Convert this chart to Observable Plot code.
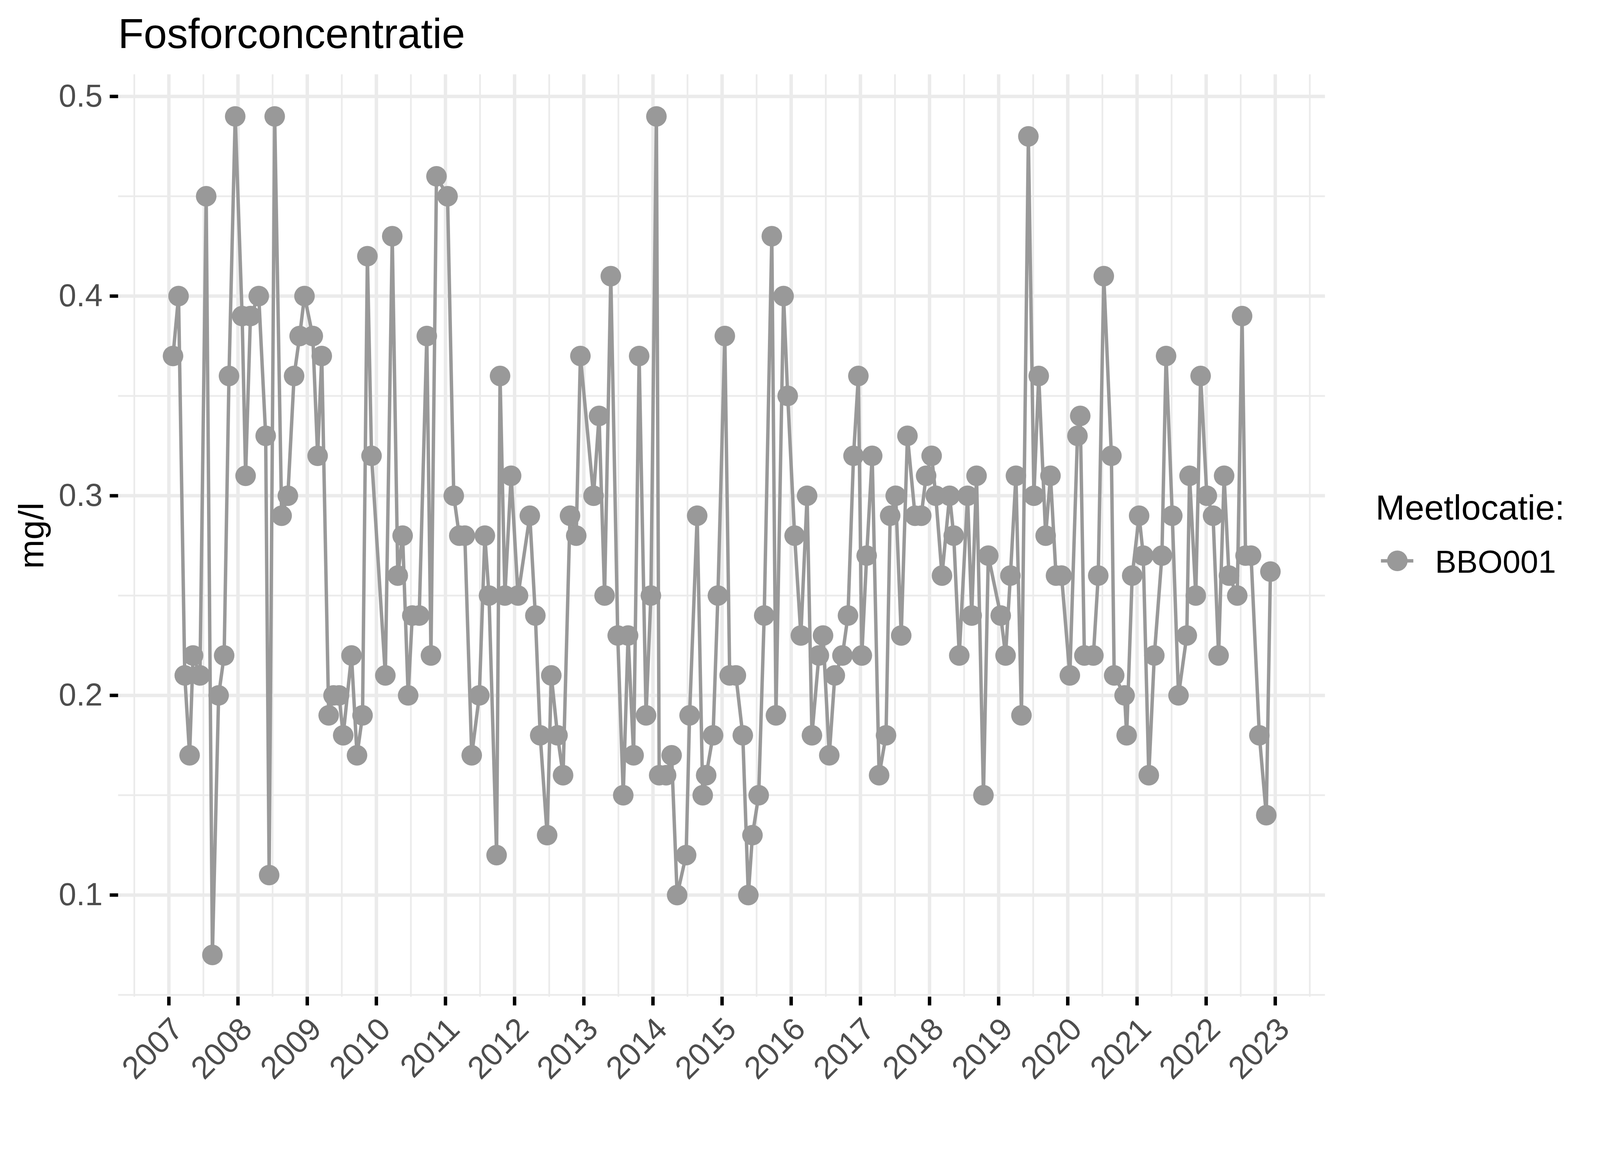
<!DOCTYPE html>
<html>
<head>
<meta charset="utf-8">
<script src="https://cdn.jsdelivr.net/npm/d3@7"></script>
<script src="https://cdn.jsdelivr.net/npm/@observablehq/plot@0.6"></script>
<style>
  html, body { margin: 0; padding: 0; background: #ffffff; overflow: hidden; }
  #page { position: relative; width: 4200px; height: 3000px; font-family: "Liberation Sans", Arial, sans-serif; background: #ffffff; transform-origin: 0 0; overflow: hidden; }
  #title { height: 160px; box-sizing: border-box; padding-top: 33px; padding-left: 310px; font-size: 110px; line-height: 110px; color: #000; white-space: nowrap; }
  #chart { height: 2840px; line-height: 0; }
  #chart svg { display: block; }
  .leg { position: absolute; white-space: nowrap; color: #000; }
  #legTitle { left: 3611px; top: 1286px; font-size: 92px; line-height: 92px; }
  #legLabel { left: 3767px; top: 1432px; font-size: 84px; line-height: 84px; }
  #legKey { position: absolute; left: 3620px; top: 1440px; }
</style>
</head>
<body>
<div id="page">
  <div id="title">Fosforconcentratie</div>
  <div id="chart"></div>
  <div class="leg" id="legTitle">Meetlocatie:</div>
  <svg id="legKey" width="96" height="64" viewBox="0 0 96 64">
    <line x1="5" y1="32" x2="90" y2="32" stroke="#999999" stroke-width="9"></line>
    <circle cx="48" cy="32" r="27" fill="#999999"></circle>
  </svg>
  <div class="leg" id="legLabel">BBO001</div>
</div>
<script>
// Sample moments (decimal years)
const sampleYears = [
  2007.06, 2007.14, 2007.23, 2007.30, 2007.35, 2007.45, 2007.54, 2007.63, 2007.72, 2007.80, 2007.87, 2007.96,
  2008.06, 2008.11, 2008.18, 2008.30, 2008.40, 2008.45, 2008.53, 2008.63, 2008.72, 2008.81, 2008.89, 2008.96,
  2009.08, 2009.15, 2009.21, 2009.31, 2009.38, 2009.46, 2009.52, 2009.64, 2009.72, 2009.80, 2009.87, 2009.93,
  2010.13, 2010.23, 2010.31, 2010.38, 2010.46, 2010.52, 2010.62, 2010.73, 2010.79, 2010.87,
  2011.03, 2011.12, 2011.20, 2011.28, 2011.38, 2011.49, 2011.57, 2011.63, 2011.74, 2011.79, 2011.86, 2011.95,
  2012.05, 2012.22, 2012.30, 2012.37, 2012.47, 2012.53, 2012.62, 2012.70, 2012.80, 2012.89, 2012.95,
  2013.14, 2013.22, 2013.30, 2013.39, 2013.49, 2013.57, 2013.64, 2013.72, 2013.80, 2013.90, 2013.97,
  2014.05, 2014.09, 2014.19, 2014.27, 2014.35, 2014.48, 2014.53, 2014.64, 2014.72, 2014.77, 2014.87, 2014.94,
  2015.04, 2015.11, 2015.20, 2015.30, 2015.38, 2015.44, 2015.53, 2015.61, 2015.72, 2015.78, 2015.89, 2015.95,
  2016.05, 2016.14, 2016.23, 2016.30, 2016.40, 2016.46, 2016.55, 2016.63, 2016.74, 2016.82, 2016.90, 2016.97,
  2017.02, 2017.09, 2017.17, 2017.27, 2017.37, 2017.43, 2017.51, 2017.59, 2017.68, 2017.79, 2017.88, 2017.95,
  2018.03, 2018.09, 2018.18, 2018.29, 2018.35, 2018.43, 2018.55, 2018.61, 2018.68, 2018.78, 2018.85,
  2019.03, 2019.10, 2019.17, 2019.25, 2019.33, 2019.43, 2019.51, 2019.58, 2019.68, 2019.75, 2019.83, 2019.91,
  2020.03, 2020.14, 2020.18, 2020.24, 2020.37, 2020.44, 2020.52, 2020.63, 2020.67, 2020.82, 2020.85, 2020.93,
  2021.03, 2021.09, 2021.17, 2021.25, 2021.36, 2021.42, 2021.51, 2021.60, 2021.72, 2021.76, 2021.85, 2021.92,
  2022.01, 2022.10, 2022.18, 2022.26, 2022.33, 2022.45, 2022.52, 2022.57, 2022.65, 2022.77, 2022.87, 2022.93
];
// Phosphorus concentration, mg/l, location BBO001
const fosfor = [
  0.37, 0.40, 0.21, 0.17, 0.22, 0.21, 0.45, 0.07, 0.20, 0.22, 0.36, 0.49,
  0.39, 0.31, 0.39, 0.40, 0.33, 0.11, 0.49, 0.29, 0.30, 0.36, 0.38, 0.40,
  0.38, 0.32, 0.37, 0.19, 0.20, 0.20, 0.18, 0.22, 0.17, 0.19, 0.42, 0.32,
  0.21, 0.43, 0.26, 0.28, 0.20, 0.24, 0.24, 0.38, 0.22, 0.46,
  0.45, 0.30, 0.28, 0.28, 0.17, 0.20, 0.28, 0.25, 0.12, 0.36, 0.25, 0.31,
  0.25, 0.29, 0.24, 0.18, 0.13, 0.21, 0.18, 0.16, 0.29, 0.28, 0.37,
  0.30, 0.34, 0.25, 0.41, 0.23, 0.15, 0.23, 0.17, 0.37, 0.19, 0.25,
  0.49, 0.16, 0.16, 0.17, 0.10, 0.12, 0.19, 0.29, 0.15, 0.16, 0.18, 0.25,
  0.38, 0.21, 0.21, 0.18, 0.10, 0.13, 0.15, 0.24, 0.43, 0.19, 0.40, 0.35,
  0.28, 0.23, 0.30, 0.18, 0.22, 0.23, 0.17, 0.21, 0.22, 0.24, 0.32, 0.36,
  0.22, 0.27, 0.32, 0.16, 0.18, 0.29, 0.30, 0.23, 0.33, 0.29, 0.29, 0.31,
  0.32, 0.30, 0.26, 0.30, 0.28, 0.22, 0.30, 0.24, 0.31, 0.15, 0.27,
  0.24, 0.22, 0.26, 0.31, 0.19, 0.48, 0.30, 0.36, 0.28, 0.31, 0.26, 0.26,
  0.21, 0.33, 0.34, 0.22, 0.22, 0.26, 0.41, 0.32, 0.21, 0.20, 0.18, 0.26,
  0.29, 0.27, 0.16, 0.22, 0.27, 0.37, 0.29, 0.20, 0.23, 0.31, 0.25, 0.36,
  0.30, 0.29, 0.22, 0.31, 0.26, 0.25, 0.39, 0.27, 0.27, 0.18, 0.14, 0.262
];
const yearTicks = [2007, 2008, 2009, 2010, 2011, 2012, 2013, 2014, 2015, 2016, 2017, 2018, 2019, 2020, 2021, 2022, 2023];
const yearMinor = [2006.5, 2007.5, 2008.5, 2009.5, 2010.5, 2011.5, 2012.5, 2013.5, 2014.5, 2015.5, 2016.5, 2017.5, 2018.5, 2019.5, 2020.5, 2021.5, 2022.5, 2023.5];
const yTicks = [0.1, 0.2, 0.3, 0.4, 0.5];
const yMinor = [0.05, 0.15, 0.25, 0.35, 0.45];
const xLimits = [2006.268, 2023.722];
const yLimits = [0.049, 0.511];

function decToDate(d) {
  const y = Math.floor(d);
  const a = Date.UTC(y, 0, 1), b = Date.UTC(y + 1, 0, 1);
  return new Date(a + (d - y) * (b - a));
}

const data = sampleYears.map((t, i) => ({date: decToDate(t), value: fosfor[i]}));
const majorX = yearTicks.map(decToDate);
const minorX = yearMinor.map(decToDate);

const grid = "#EBEBEB";
const chart = Plot.plot({
  width: 4200,
  height: 2840,
  marginTop: 35,
  marginBottom: 384,
  marginLeft: 310,
  marginRight: 722,
  style: {fontFamily: "Liberation Sans, Arial, sans-serif", fontSize: "83px", background: "#ffffff", overflow: "visible"},
  x: {type: "utc", domain: xLimits.map(decToDate)},
  y: {domain: yLimits},
  marks: [
    Plot.ruleX(minorX, {stroke: grid, strokeWidth: 4.5}),
    Plot.ruleY(yMinor, {stroke: grid, strokeWidth: 4.5}),
    Plot.ruleX(majorX, {stroke: grid, strokeWidth: 9}),
    Plot.ruleY(yTicks, {stroke: grid, strokeWidth: 9}),
    Plot.line(data, {x: "date", y: "value", stroke: "#999999", strokeWidth: 9}),
    Plot.dot(data, {x: "date", y: "value", r: 27, fill: "#999999", stroke: "none"}),
    Plot.axisX({anchor: "bottom", ticks: majorX, tickFormat: d3.utcFormat("%Y"), tickRotate: -45, textAnchor: "end", lineAnchor: "top", tickSize: 23, tickPadding: 25, stroke: "#000", strokeWidth: 9, fill: "#4D4D4D", fontSize: 83, label: null}),
    Plot.axisY({anchor: "left", ticks: yTicks, tickFormat: d => d.toFixed(1), tickSize: 22, tickPadding: 19, stroke: "#000", strokeWidth: 9, fill: "#4D4D4D", fontSize: 83, label: null}),
    Plot.text(["mg/l"], {frameAnchor: "left", dx: -197, rotate: -90, textAnchor: "middle", lineAnchor: "bottom", fontSize: 92, fill: "#000"})
  ]
});
document.getElementById("chart").appendChild(chart);

// Fit the 4200x3000 page to the actual viewport.
const s = Math.min(window.innerWidth / 4200, window.innerHeight / 3000);
if (s > 0 && Math.abs(s - 1) > 0.001) {
  document.getElementById("page").style.transform = "scale(" + s + ")";
}
</script>
</body>
</html>
